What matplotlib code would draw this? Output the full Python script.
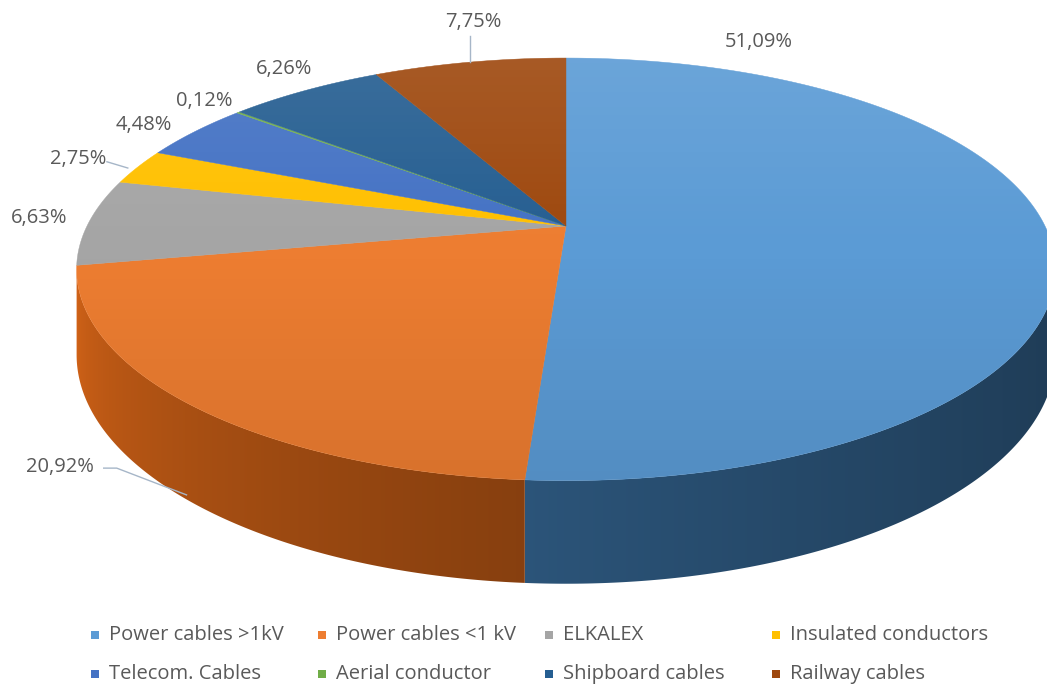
import numpy as np
import matplotlib
matplotlib.use('Agg')
import matplotlib.pyplot as plt
from matplotlib.colors import to_rgb, rgb_to_hsv, hsv_to_rgb
from matplotlib.patches import Polygon, Rectangle

plt.rcParams['font.family'] = ['Open Sans', 'DejaVu Sans']

categories = ['Power cables >1kV', 'Power cables <1 kV', 'ELKALEX', 'Insulated conductors',
              'Telecom. Cables', 'Aerial conductor', 'Shipboard cables', 'Railway cables']
shares = [51.09, 20.92, 6.63, 2.75, 4.48, 0.12, 6.26, 7.75]
colors = ['#5B9BD5', '#ED7D31', '#A5A5A5', '#FFC000',
          '#4472C4', '#70AD47', '#255E91', '#9E480E']

# label placement: shift from slice mid-angle (deg) and radius factor
label_shift = [-68.0, 0, 1, 0, -1.5, 0, 2, 3]
label_r = [1.22, 1.28, 1.11, 1.15, 1.13, 1.12, 1.16, 1.29]

# projected pie geometry (pixel units)
CX, CY, A, B, P, H0 = 566, 226, 479, 202.4, 0.205, 82
TXT = '#595959'
LEAD = '#a6b6c8'


def project(theta, r=1.0, drop=0.0):
    t = np.radians(theta)
    u = r * np.sin(t)
    v = -r * np.cos(t)
    w = 1 - P * v
    return CX + A * u / w, CY + (B * v + drop * H0) / w


def side_colors(color, theta):
    # darker, a bit more saturated wall; lighter toward the left
    s = np.clip((theta - 90) / 180, 0, 1)
    hsv = np.tile(rgb_to_hsv(np.array(to_rgb(color))), (len(theta), 1))
    hsv[:, 1] = np.clip(hsv[:, 1] * 1.12, 0, 1)
    hsv[:, 2] = hsv[:, 2] * (0.40 + 0.55 * s ** 1.8)
    return hsv_to_rgb(hsv)


fig = plt.figure(figsize=(10.47, 6.84), dpi=100)
ax = fig.add_axes([0, 0, 1, 1])

edges = np.concatenate([[0], np.cumsum(shares)]) / sum(shares) * 360

# visible wall runs between the two silhouette angles
th_r = np.degrees(np.arccos(-P))
th_l = 360 - th_r
arc_t = np.linspace(th_r, th_l, 600)
arc_x = np.array([project(t)[0] for t in arc_t])

for i in range(len(shares)):
    a0, a1 = max(edges[i], th_r), min(edges[i + 1], th_l)
    if a1 <= a0:
        continue
    ts = np.linspace(a0, a1, max(3, int(a1 - a0) * 2 + 2))
    pts = [project(t) for t in ts] + [project(t, drop=1) for t in ts[::-1]]
    wall = Polygon(pts, closed=True, facecolor='none', edgecolor='none',
                   transform=ax.transData)
    ax.add_patch(wall)
    xs = np.array([p[0] for p in pts])
    ys = np.array([p[1] for p in pts])
    xgrid = np.linspace(xs.min(), xs.max(), 300)
    tgrid = np.interp(xgrid, arc_x[::-1], arc_t[::-1])
    img = side_colors(colors[i], tgrid)[None, :, :]
    im = ax.imshow(img, extent=(xs.min() - 1, xs.max() + 1, ys.max() + 1, ys.min() - 1),
                   origin='upper', aspect='auto', interpolation='bilinear', zorder=1)
    im.set_clip_path(wall)

# top faces
for i in range(len(shares)):
    ts = np.linspace(edges[i], edges[i + 1], max(3, int(edges[i + 1] - edges[i]) * 2 + 2))
    pts = [project(0, r=0)] + [project(t) for t in ts]
    ax.add_patch(Polygon(pts, closed=True, facecolor=colors[i], edgecolor=colors[i],
                         lw=0.3, zorder=2))

# soft vertical light on top surface
ring = [project(t) for t in np.linspace(0, 360, 721)]
top_clip = Polygon(ring, closed=True, transform=ax.transData, facecolor='none', edgecolor='none')
ax.add_patch(top_clip)
g = np.linspace(0, 1, 256)
rgba = np.zeros((256, 1, 4))
rgba[:, 0, :3] = np.where(g < 0.45, 1.0, 0.0)[:, None]
rgba[:, 0, 3] = np.where(g < 0.45, 0.10 * (1 - g / 0.45), 0.09 * (g - 0.45) / 0.55)
y_top, y_bot = project(0)[1], project(180)[1]
im = ax.imshow(rgba, extent=(0, 1047, y_bot, y_top), origin='upper', aspect='auto',
               interpolation='bilinear', zorder=3)
im.set_clip_path(top_clip)

# data labels
mids = 0.5 * (edges[:-1] + edges[1:])
for i, s in enumerate(shares):
    lx, ly = project(mids[i] + label_shift[i], r=label_r[i])
    ax.text(lx, ly, f'{s:.2f}%'.replace('.', ','), ha='center', va='center',
            fontsize=14.5, color=TXT, zorder=5)

# leader lines
lx, ly = project(mids[1], r=label_r[1])
sx, sy = project(mids[1], drop=0.93)
ax.plot([lx + 44, lx + 57, sx - 4], [ly + 1, ly + 1, sy], color=LEAD, lw=1, zorder=4)
lx, ly = project(mids[3], r=label_r[3])
rx, ry = project(mids[3])
ax.plot([lx + 29, rx - 10], [ly + 3, ry + 1], color=LEAD, lw=1, zorder=4)
lx, ly = project(mids[7] + label_shift[7], r=label_r[7])
rx, ry = project(mids[7])
ax.plot([rx, rx], [ly + 14, ry], color=LEAD, lw=1, zorder=4)

# legend, equal-width columns
for i, name in enumerate(categories):
    x = 95 + 227 * (i % 4)
    y = 635 + 39 * (i // 4)
    ax.add_patch(Rectangle((x - 4, y - 4), 8, 8, facecolor=colors[i], edgecolor='none'))
    ax.text(x + 14, y, name, ha='left', va='center', fontsize=14.5, color=TXT)

ax.set_xlim(0, 1047)
ax.set_ylim(684, 0)
ax.axis('off')
fig.savefig('out.png', dpi=100, facecolor='white')
